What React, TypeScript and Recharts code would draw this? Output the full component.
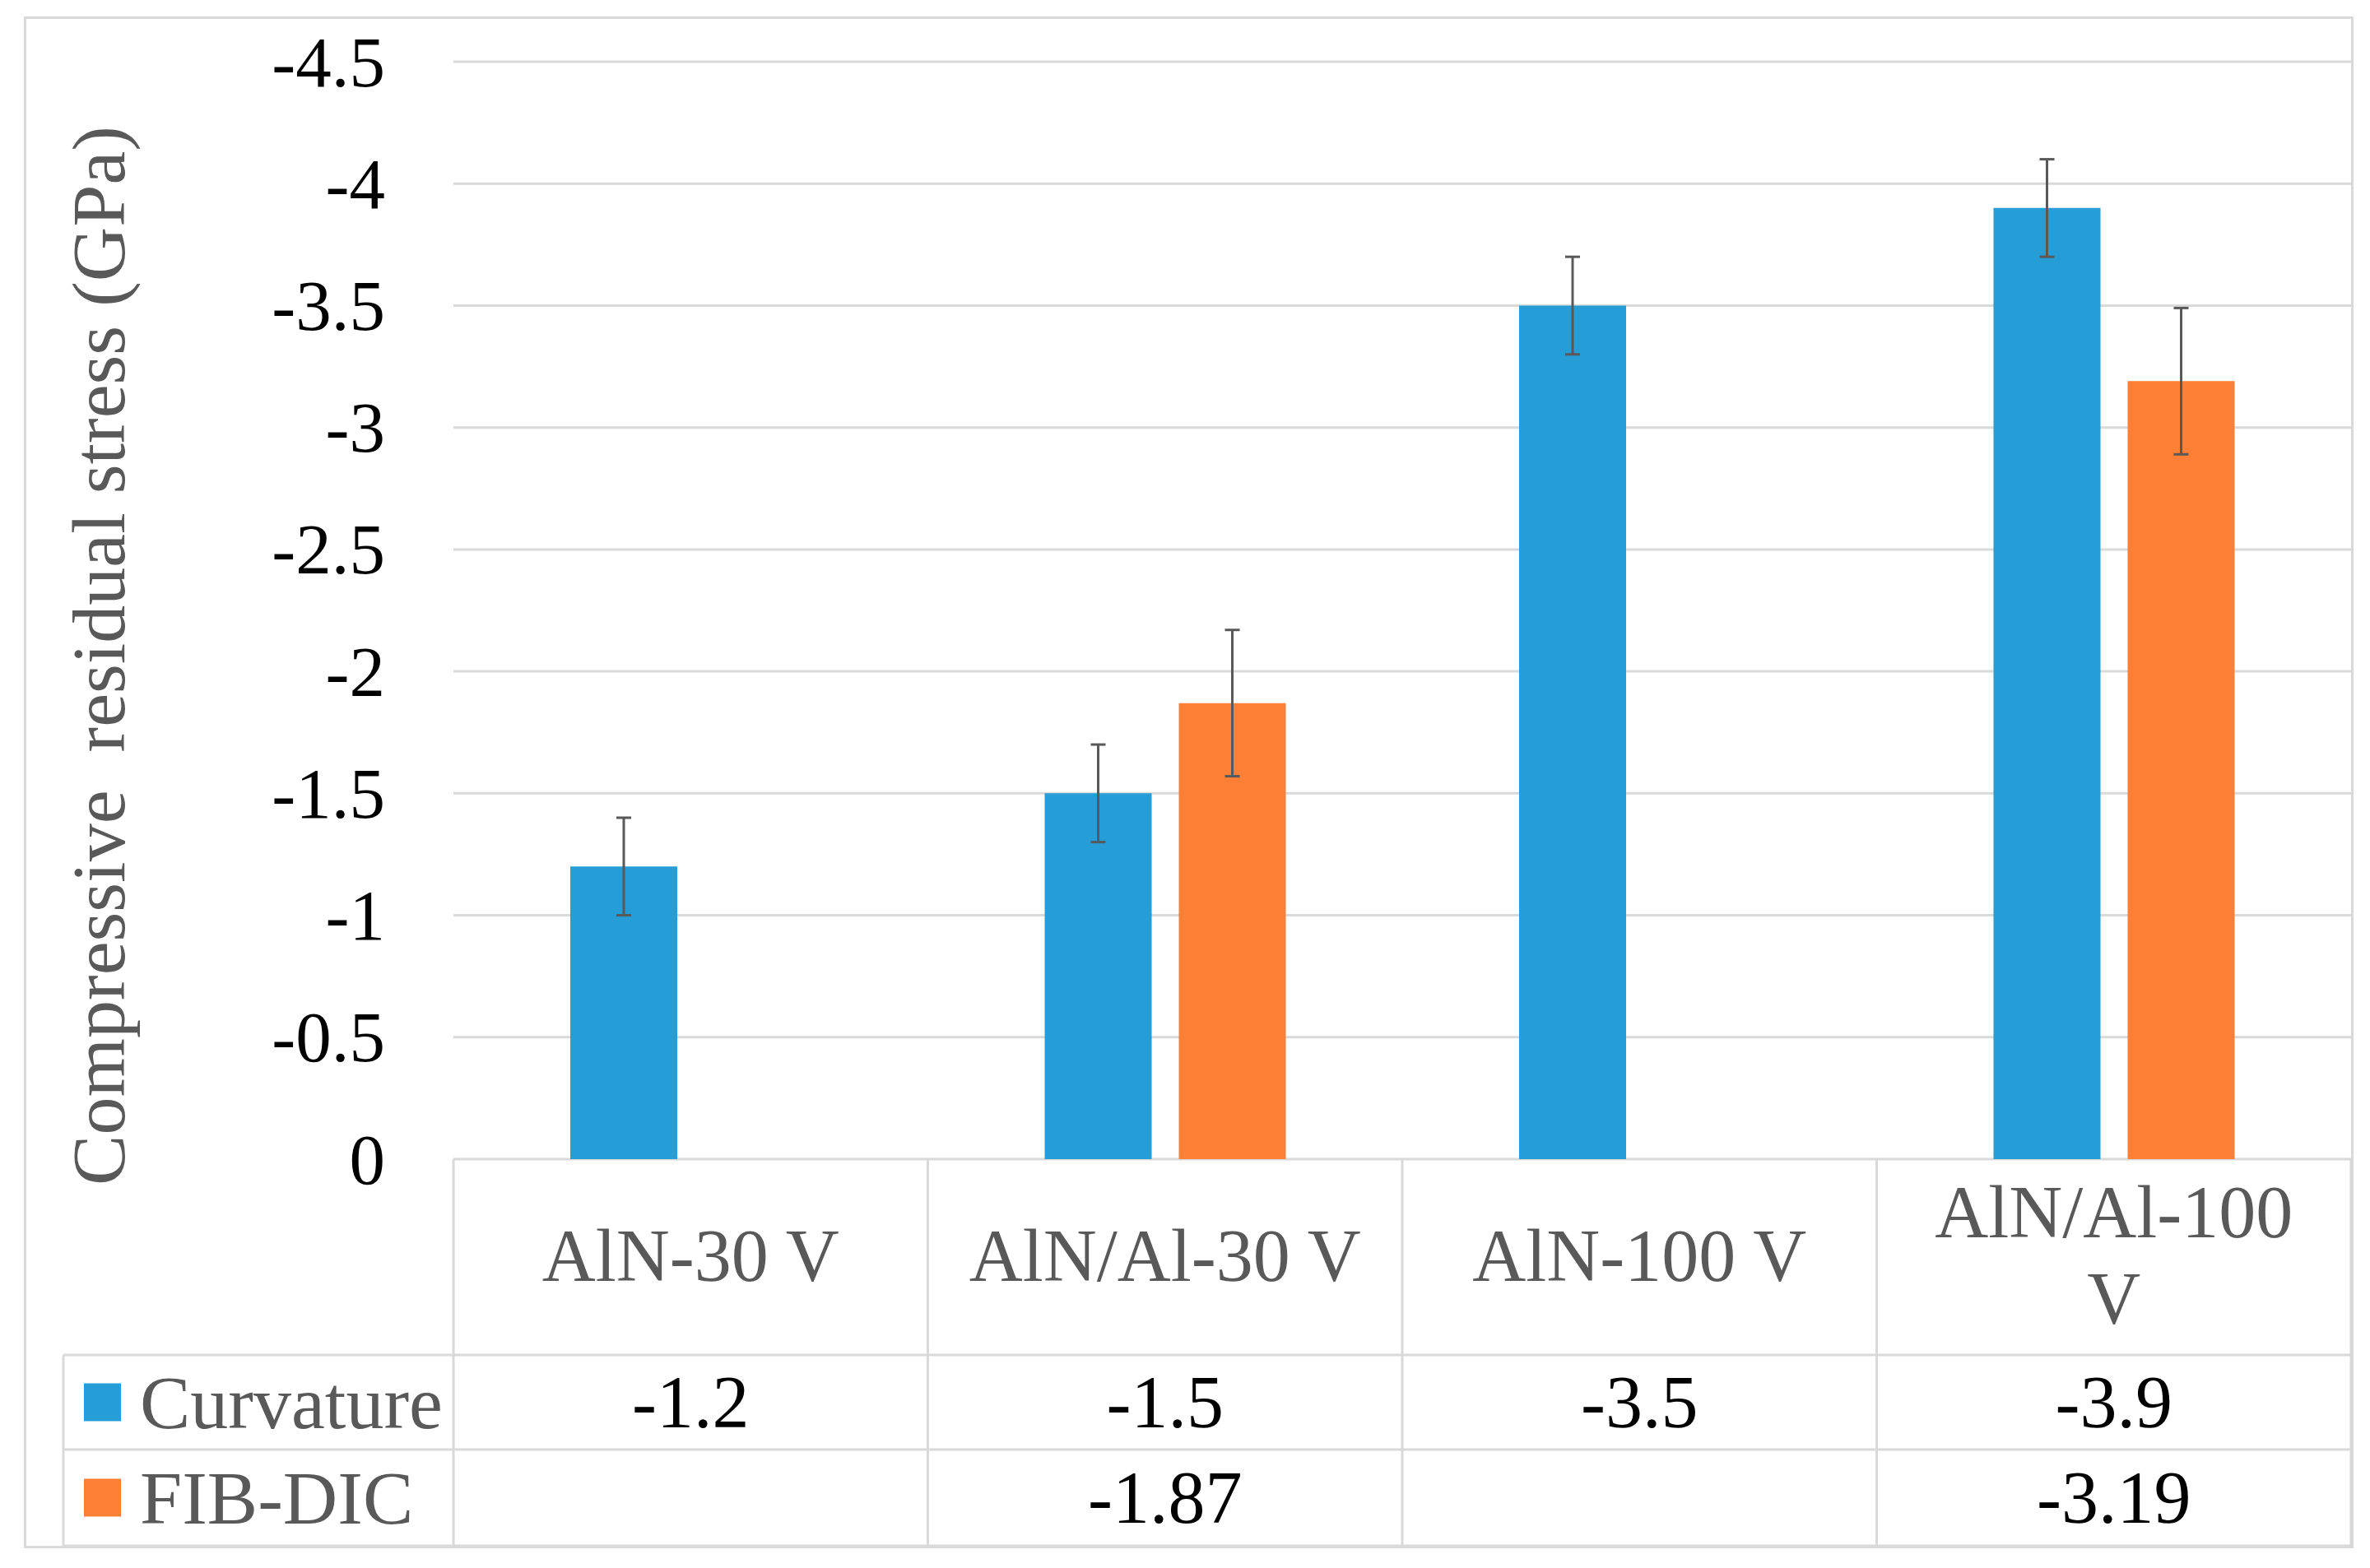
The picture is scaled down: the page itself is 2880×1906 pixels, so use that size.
import React from 'react';
import { BarChart, Bar, XAxis, YAxis, CartesianGrid, ErrorBar } from 'recharts';

const categories = ['AlN-30 V', 'AlN/Al-30 V', 'AlN-100 V', 'AlN/Al-100 V'];
const curvature = [-1.2, -1.5, -3.5, -3.9];
const curvatureErr = [0.2, 0.2, 0.2, 0.2];
const fibDic: (number | null)[] = [null, -1.87, null, -3.19];
const fibDicErr: (number | null)[] = [null, 0.3, null, 0.3];
const seriesNames = ['Curvature', 'FIB-DIC'];
const yTicks = [-4.5, -4, -3.5, -3, -2.5, -2, -1.5, -1, -0.5, 0];
const yTitle = 'Compressive  residual stress (GPa)';

const BLUE = '#269DD6';
const ORANGE = '#FE7F36';
const GRID = '#d9d9d9';
const GRAY_TEXT = '#595959';
const FONT = '"Liberation Serif", "Times New Roman", serif';

const W = 2880;
const H = 1906;
const MARGIN = { top: 75, right: 23, bottom: 27, left: 0 };
const Y_AXIS_W = 551;
const X_AXIS_H = 470;
const PLOT_LEFT = MARGIN.left + Y_AXIS_W;
const PLOT_RIGHT = W - MARGIN.right;
const BAND = (PLOT_RIGHT - PLOT_LEFT) / categories.length;
const LEG_LEFT = 77;
const ROW0_H = 238;
const ROW1_H = 115;
const ROW2_H = 117;

const data = categories.map((c, i) => ({
  category: c,
  curvature: curvature[i],
  curvatureErr: curvatureErr[i],
  fib: fibDic[i],
  fibErr: fibDicErr[i],
}));

function wrapLabel(s: string): string[] {
  if (s.length > 11) {
    const k = s.lastIndexOf(' ');
    return [s.slice(0, k), s.slice(k + 1)];
  }
  return [s];
}

const fmt = (v: number | null) => (v === null || v === undefined ? '' : String(v));

const TableTick = (props: any) => {
  const { x, y, payload } = props;
  const i = payload.index;
  const top = y;
  const r1 = top + ROW0_H;
  const r2 = r1 + ROW1_H;
  const bottom = r2 + ROW2_H;
  const left = x - BAND / 2;
  const right = x + BAND / 2;
  const lines = wrapLabel(String(payload.value));
  const lineGap = 105;
  const catCenter = top + ROW0_H / 2 - 2;
  const sw = 3;
  return (
    <g>
      <line x1={left} y1={top} x2={left} y2={bottom} stroke={GRID} strokeWidth={sw} />
      {i === categories.length - 1 && (
        <line x1={right} y1={top} x2={right} y2={bottom} stroke={GRID} strokeWidth={sw} />
      )}
      {lines.map((ln, k) => (
        <text
          key={k}
          x={x}
          y={catCenter + (k - (lines.length - 1) / 2) * lineGap}
          textAnchor="middle"
          dominantBaseline="central"
          fontFamily={FONT}
          fontSize={90}
          fill={GRAY_TEXT}
        >
          {ln}
        </text>
      ))}
      <text x={x} y={r1 + ROW1_H / 2} textAnchor="middle" dominantBaseline="central" fontFamily={FONT} fontSize={90} fill="#000">
        {fmt(curvature[i])}
      </text>
      <text x={x} y={r2 + ROW2_H / 2} textAnchor="middle" dominantBaseline="central" fontFamily={FONT} fontSize={90} fill="#000">
        {fmt(fibDic[i])}
      </text>
      {i === 0 && (
        <g>
          <line x1={LEG_LEFT} y1={r1} x2={LEG_LEFT} y2={bottom} stroke={GRID} strokeWidth={sw} />
          <line x1={LEG_LEFT} y1={r1} x2={PLOT_RIGHT} y2={r1} stroke={GRID} strokeWidth={sw} />
          <line x1={LEG_LEFT} y1={r2} x2={PLOT_RIGHT} y2={r2} stroke={GRID} strokeWidth={sw} />
          <line x1={LEG_LEFT} y1={bottom} x2={PLOT_RIGHT} y2={bottom} stroke={GRID} strokeWidth={sw} />
          <rect x={102} y={r1 + ROW1_H / 2 - 23} width={45} height={46} fill={BLUE} />
          <text x={170} y={r1 + ROW1_H / 2} dominantBaseline="central" fontFamily={FONT} fontSize={92} fill={GRAY_TEXT}>
            {seriesNames[0]}
          </text>
          <rect x={102} y={r2 + ROW2_H / 2 - 23} width={45} height={46} fill={ORANGE} />
          <text x={170} y={r2 + ROW2_H / 2} dominantBaseline="central" fontFamily={FONT} fontSize={92} fill={GRAY_TEXT}>
            {seriesNames[1]}
          </text>
        </g>
      )}
    </g>
  );
};

const YTick = (props: any) => {
  const { x, y, payload } = props;
  return (
    <text x={468} y={y} textAnchor="end" dominantBaseline="central" fontFamily={FONT} fontSize={87} fill="#000">
      {String(payload.value)}
    </text>
  );
};

const YTitle = () => (
  <text
    x={0}
    y={0}
    transform={`translate(151, 797) rotate(-90)`}
    textAnchor="middle"
    fontFamily={FONT}
    fontSize={92}
    fill={GRAY_TEXT}
    style={{ whiteSpace: 'pre' }}
  >
    {yTitle}
  </text>
);

export default function App() {
  return (
    <div style={{ position: 'absolute', left: 0, top: 0, width: W, height: H, background: '#fff' }}>
      <div
        style={{
          position: 'absolute',
          left: 29,
          top: 20,
          width: 2831,
          height: 1862,
          border: `3px solid ${GRID}`,
          boxSizing: 'border-box',
        }}
      />
      <div style={{ position: 'absolute', left: 0, top: 0 }}>
        <BarChart width={W} height={H} data={data} margin={MARGIN} barSize={130} barGap={33}>
          <CartesianGrid vertical={false} stroke={GRID} strokeWidth={3} />
          <XAxis
            dataKey="category"
            height={X_AXIS_H}
            axisLine={false}
            tickLine={false}
            tickSize={0}
            tickMargin={0}
            interval={0}
            tick={<TableTick />}
          />
          <YAxis
            width={Y_AXIS_W}
            domain={[-4.5, 0]}
            ticks={yTicks}
            reversed
            axisLine={false}
            tickLine={false}
            tickSize={0}
            interval={0}
            tick={<YTick />}
            label={{ content: () => <YTitle /> }}
          />
          <Bar dataKey="curvature" fill={BLUE} isAnimationActive={false}>
            <ErrorBar dataKey="curvatureErr" width={9} stroke="#595959" strokeWidth={3} />
          </Bar>
          <Bar dataKey="fib" fill={ORANGE} isAnimationActive={false}>
            <ErrorBar dataKey="fibErr" width={9} stroke="#595959" strokeWidth={3} />
          </Bar>
        </BarChart>
      </div>
    </div>
  );
}
